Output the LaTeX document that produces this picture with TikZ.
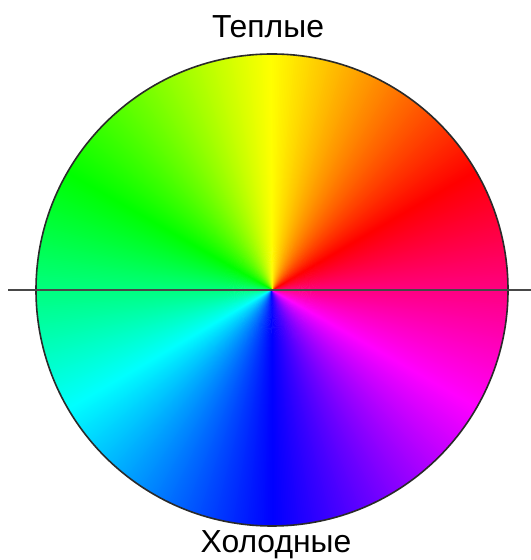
\documentclass[tikz,border=0pt]{standalone}
\usepackage{xcolor}
\usepackage{fontspec}
\setmainfont{Liberation Sans}
\definecolor{CRim}{HTML}{2A2A2A}
\definecolor{CAxis}{HTML}{474747}
\usepackage{tikz}
\usetikzlibrary{positioning}
\tikzstyle{labelNode}=[inner sep=0pt, font=\fontsize{32}{32}\selectfont, text=black]
\tikzstyle{wheelRim}=[draw=CRim, line width=1.6bp]
\tikzstyle{axisLine}=[draw=CAxis, line width=2bp]

\begin{document}
\begin{tikzpicture}[x=1bp, y=1bp]
\useasboundingbox (0,0) rectangle (531,560);
\coordinate (c) at (272,270);
\foreach \a in {0,0.5,...,359.5} {
  \pgfmathsetmacro{\h}{mod(\a+330,360)}
  \definecolor{wedgeColor}{Hsb}{\h,1,1}
  \fill[wedgeColor] (c) -- ++(\a:236) arc[start angle=\a, end angle=\a+1.1, radius=236] -- cycle;
}
\draw[wheelRim] (c) circle (236);
\coordinate (axisL) at (8,270);
\coordinate (axisR) at (531,270);
\draw[axisLine] (axisL) -- (axisR);
\node[labelNode] (warm) at (268,533) {Теплые};
\node[labelNode] (cold) at (276,15) {Холодные};
\end{tikzpicture}
\end{document}
